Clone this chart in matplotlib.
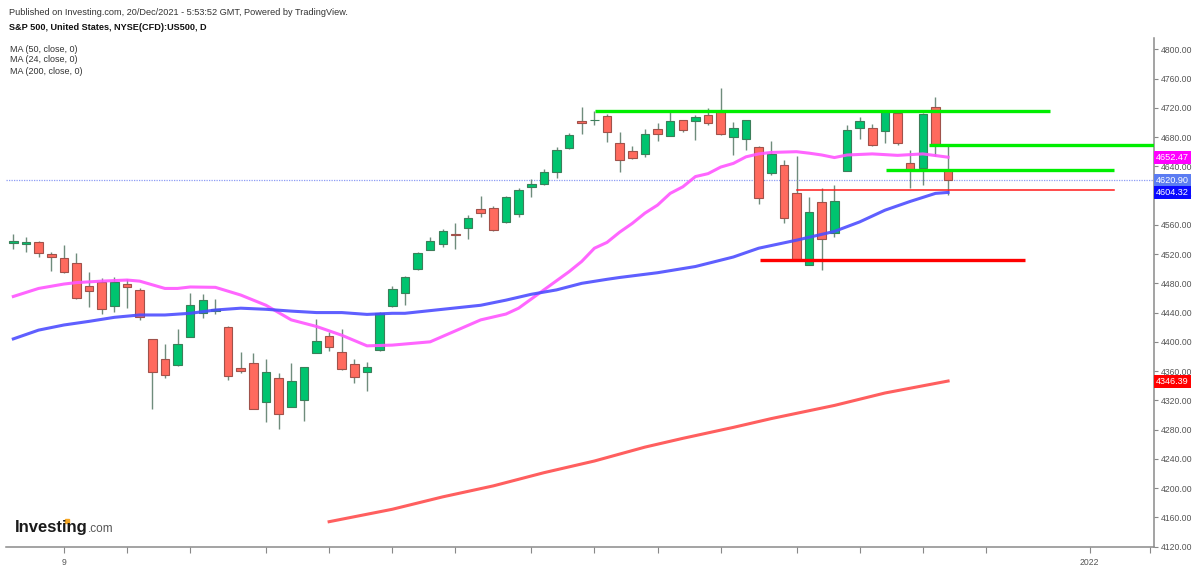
import numpy as np
import matplotlib
matplotlib.use("Agg")
from matplotlib import pyplot as plt
from matplotlib import transforms

plt.rcParams['font.family'] = ['Liberation Sans', 'DejaVu Sans']

# daily candles (index 0 = first visible day)
opens = [4535.8, 4533.7, 4536.9, 4520.1, 4515.0, 4508.2, 4475.9, 4481.4, 4448.9, 4479.0,
         4470.8, 4403.8, 4376.1, 4368.3, 4407.0, 4439.8, 4442.5, 4420.7, 4363.8, 4371.4,
         4318.1, 4350.5, 4311.3, 4320.4, 4385.1, 4407.5, 4386.1, 4369.2, 4359.1, 4388.8,
         4448.9, 4466.3, 4499.2, 4525.5, 4533.8, 4547.4, 4555.2, 4581.2, 4582.6, 4563.4,
         4574.4, 4612.1, 4615.4, 4632.2, 4664.6, 4701.5, 4702.9, 4709.2, 4672.3, 4660.9,
         4656.8, 4691.0, 4681.4, 4703.3, 4702.4, 4710.2, 4713.8, 4679.7, 4677.7, 4666.8,
         4630.4, 4641.8, 4603.9, 4505.0, 4590.8, 4549.2, 4633.6, 4692.0, 4692.0, 4688.7,
         4712.4, 4644.1, 4637.3, 4721.5, 4634.9]
highs = [4547.4, 4543.3, 4537.5, 4522.8, 4531.9, 4521.9, 4495.0, 4487.7, 4488.2, 4485.9,
         4474.0, 4404.5, 4396.6, 4417.5, 4467.2, 4465.4, 4459.0, 4421.5, 4386.5, 4384.3,
         4376.1, 4356.9, 4370.6, 4366.0, 4431.2, 4413.0, 4417.5, 4376.1, 4372.7, 4440.8,
         4476.3, 4490.4, 4522.5, 4542.9, 4554.3, 4562.1, 4573.4, 4599.8, 4586.1, 4600.0,
         4609.9, 4622.2, 4636.7, 4666.8, 4685.9, 4720.7, 4716.0, 4712.0, 4687.3, 4667.3,
         4690.6, 4699.6, 4717.0, 4704.0, 4710.2, 4719.3, 4746.7, 4701.0, 4704.0, 4667.5,
         4674.6, 4648.6, 4654.1, 4598.4, 4609.9, 4614.4, 4696.5, 4707.0, 4697.4, 4717.0,
         4713.0, 4662.3, 4713.3, 4734.4, 4667.8]
lows = [4526.9, 4522.8, 4515.9, 4496.8, 4494.0, 4459.0, 4447.2, 4437.6, 4441.2, 4445.8,
        4429.8, 4307.7, 4350.1, 4367.5, 4406.5, 4433.0, 4438.0, 4347.8, 4356.9, 4307.5,
        4289.9, 4280.8, 4310.5, 4292.1, 4384.5, 4387.8, 4362.0, 4343.3, 4332.7, 4388.0,
        4448.0, 4450.3, 4498.5, 4525.0, 4529.2, 4526.5, 4540.2, 4571.1, 4552.0, 4563.0,
        4570.3, 4597.6, 4615.0, 4624.0, 4664.0, 4684.2, 4696.9, 4673.6, 4632.6, 4650.0,
        4653.1, 4675.0, 4681.0, 4687.3, 4676.0, 4696.5, 4683.5, 4655.4, 4662.3, 4588.4,
        4628.1, 4562.1, 4511.5, 4504.5, 4498.2, 4542.9, 4633.0, 4677.3, 4668.0, 4672.3,
        4669.1, 4609.9, 4614.4, 4654.1, 4600.8]
closes = [4537.8, 4536.9, 4521.0, 4515.9, 4495.0, 4459.9, 4469.9, 4444.4, 4482.2, 4475.4,
          4434.3, 4359.1, 4354.6, 4397.4, 4449.9, 4456.8, 4444.4, 4353.7, 4360.5, 4308.5,
          4358.3, 4301.3, 4346.8, 4365.1, 4400.7, 4392.9, 4362.8, 4351.5, 4365.1, 4439.8,
          4471.8, 4488.2, 4521.9, 4538.3, 4552.0, 4545.6, 4568.9, 4576.6, 4552.5, 4598.4,
          4607.6, 4615.4, 4632.2, 4662.3, 4682.8, 4698.8, 4703.7, 4686.5, 4648.6, 4650.9,
          4684.2, 4684.2, 4702.4, 4689.6, 4707.8, 4699.6, 4684.2, 4692.0, 4703.3, 4596.2,
          4656.8, 4568.9, 4513.2, 4578.0, 4540.2, 4593.0, 4689.6, 4702.4, 4668.7, 4713.8,
          4671.5, 4634.9, 4711.5, 4670.1, 4620.9]

# moving averages, sampled off the chart
ma24_idx = [0, 2, 4, 5, 7, 9, 10, 12, 13, 14, 16, 18, 20, 22, 24, 26, 28, 30, 33, 35, 37,
            39, 40, 42, 44, 45, 46, 47, 48, 49, 50, 51, 52, 53, 54, 55, 56, 57, 58, 59, 60,
            62, 63, 64, 65, 66, 68, 70, 72, 74]
ma24_val = [4462, 4473, 4479, 4481, 4483, 4484.5, 4483, 4473, 4473, 4475, 4474.5, 4464,
            4450, 4430, 4421, 4409, 4394.5, 4395.5, 4400, 4415, 4430, 4438, 4446, 4471,
            4496, 4510, 4528, 4536, 4550, 4562, 4576, 4587, 4603, 4612, 4626, 4630, 4639,
            4644, 4653, 4657, 4659, 4660, 4658, 4655.5, 4652, 4655.5, 4657, 4655, 4657,
            4652.47]
ma50_idx = [0, 2, 4, 6, 8, 10, 12, 14, 16, 18, 20, 22, 24, 26, 28, 30, 31, 34, 37, 39, 41,
            43, 45, 47, 48, 51, 54, 57, 59, 62, 65, 67, 69, 71, 73, 74]
ma50_val = [4404, 4416, 4423, 4428, 4433.5, 4436.7, 4436.7, 4439, 4443.5, 4446, 4444.5,
            4442, 4440, 4440, 4437.5, 4439, 4439, 4444.5, 4450, 4457, 4465, 4471, 4480,
            4485.5, 4488, 4494.5, 4503, 4516, 4528, 4539, 4551, 4564, 4580, 4592, 4603,
            4604.32]
ma200_idx = [25, 30, 34, 38, 42, 46, 50, 53, 57, 60, 65, 69, 74]
ma200_val = [4154, 4171, 4188, 4203, 4221, 4237, 4256, 4268, 4283, 4295, 4313, 4330, 4346.39]

# drawn support / resistance lines: (start index, end index, price)
green_lines = [(46.05, 82.1, 4716.0), (72.45, 90.3, 4669.1), (69.1, 87.1, 4634.9)]
red_thin_line = (62.05, 87.1, 4607.6)
red_thick_line = (59.1, 80.1, 4511.9)

last_price = 4620.90
y_ticks = np.arange(4120, 4801, 40)
x_ticks = [4, 9, 14, 20, 25, 30, 35, 41, 46, 51, 56, 62, 67, 72, 77, 85.2, 90]
x_labels = {4: "9", 85.2: "2022"}

GREEN = '#00c46f'
GREEN_EDGE = '#3b7f5a'
RED = '#ff6a5e'
RED_EDGE = '#a0524b'
WICK = '#6f8c7c'

fig = plt.figure(figsize=(12, 5.66), dpi=100)
ax = fig.add_axes([0.005, 1 - 547 / 566, 1154 / 1200 - 0.005, (547 - 38) / 566])

x = np.arange(len(opens))
o = np.array(opens)
c = np.array(closes)
up = c >= o

ax.vlines(x, lows, highs, color=WICK, linewidth=1.0, zorder=2)
bottoms = np.minimum(o, c)
heights = np.maximum(np.abs(c - o), 1.0)
ax.bar(x[up], heights[up], bottom=bottoms[up], width=0.68,
       color=GREEN, edgecolor=GREEN_EDGE, linewidth=0.8, zorder=3)
ax.bar(x[~up], heights[~up], bottom=bottoms[~up], width=0.68,
       color=RED, edgecolor=RED_EDGE, linewidth=0.8, zorder=3)

ax.plot(ma24_idx, ma24_val, color='#ff55ff', linewidth=2.2, alpha=0.9, zorder=4)
ax.plot(ma50_idx, ma50_val, color='#4d4dff', linewidth=2.2, alpha=0.9, zorder=4)
ax.plot(ma200_idx, ma200_val, color='#ff4d4d', linewidth=2.2, alpha=0.9, zorder=4)

for x0, x1, p in green_lines:
    ax.plot([x0, x1], [p, p], color='#00ee00', linewidth=2.4, zorder=5, solid_capstyle='butt')
ax.plot(red_thin_line[:2], [red_thin_line[2]] * 2, color='#ff1a1a', linewidth=1.1, zorder=5)
ax.plot(red_thick_line[:2], [red_thick_line[2]] * 2, color='#ff0000', linewidth=2.4,
        zorder=5, solid_capstyle='butt')

ax.axhline(last_price, color='#8c9cf5', linewidth=0.9, linestyle=(0, (1, 1)), zorder=1)

ax.set_xlim(-0.58, 90.3)
ax.set_ylim(4119.4, 4815.5)

ax.yaxis.tick_right()
ax.set_yticks(y_ticks)
ax.set_yticklabels([f"{v:.2f}" for v in y_ticks])
ax.set_xticks(x_ticks)
ax.set_xticklabels([x_labels.get(t, "") for t in x_ticks])
ax.tick_params(axis='y', direction='out', length=3, width=0.8, colors='#888888',
               labelcolor='#555555', labelsize=6.2, pad=2)
ax.tick_params(axis='x', direction='out', length=4, width=0.8, colors='#888888',
               labelcolor='#555555', labelsize=6.2, pad=4)
for side in ['top', 'left']:
    ax.spines[side].set_visible(False)
for side in ['right', 'bottom']:
    ax.spines[side].set_color('#8a8a8a')
    ax.spines[side].set_linewidth(1.1)

# price labels on the axis
trans = transforms.blended_transform_factory(ax.transAxes, ax.transData)
tags = [(ma24_val[-1], '#ff00ff'), (last_price, '#5b7cf2'),
        (ma50_val[-1], '#0a0aff'), (ma200_val[-1], '#ff0000')]
for val, col in tags:
    ax.text(1.002, val, f"{val:.2f}", transform=trans, ha='left', va='center',
            fontsize=6.6, color='white', clip_on=False, zorder=10,
            bbox=dict(boxstyle='square,pad=0.22', fc=col, ec='none'))

# header
fig.text(9 / 1200, 1 - 12.5 / 566, "Published on Investing.com, 20/Dec/2021 - 5:53:52 GMT, Powered by TradingView.",
         fontsize=6.6, color='#333333', va='center')
fig.text(9 / 1200, 1 - 27.5 / 566, "S&P 500, United States, NYSE(CFD):US500, D",
         fontsize=6.6, fontweight='bold', color='#111111', va='center')
for i, s in enumerate(["MA (50, close, 0)", "MA (24, close, 0)", "MA (200, close, 0)"]):
    fig.text(10 / 1200, 1 - (49 + 11 * i) / 566, s, fontsize=6.5, color='#333333', va='center')

# watermark
fig.text(15 / 1200, 1 - 532 / 566, "Investing", fontsize=12, fontweight='bold',
         color='#1a1a1a', va='baseline')
fig.text(88 / 1200, 1 - 532 / 566, ".com", fontsize=8.5, color='#555555', va='baseline')
fig.add_artist(plt.Line2D([66.5 / 1200], [1 - 520.5 / 566], marker='s', markersize=2.2,
                          color='#f5a623', transform=fig.transFigure))

fig.savefig("out.png", dpi=100)
